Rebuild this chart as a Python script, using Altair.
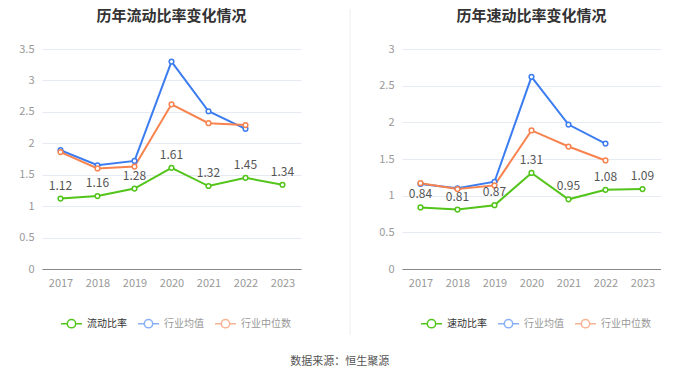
import altair as alt
import pandas as pd

years = ["2017", "2018", "2019", "2020", "2021", "2022", "2023"]

current_ratio = [1.12, 1.16, 1.28, 1.61, 1.32, 1.45, 1.34]
current_avg = [1.89, 1.65, 1.72, 3.30, 2.51, 2.23, None]
current_med = [1.86, 1.60, 1.63, 2.62, 2.32, 2.29, None]

quick_ratio = [0.84, 0.81, 0.87, 1.31, 0.95, 1.08, 1.09]
quick_avg = [1.16, 1.10, 1.19, 2.62, 1.97, 1.71, None]
quick_med = [1.17, 1.09, 1.14, 1.89, 1.67, 1.48, None]

FONT = "Noto Sans CJK SC"
COLORS = ["#52c41a", "#3b7cf0", "#f8834f"]
SYM = "M-1,0L-0.4,0M0.4,0L1,0M0.4,0A0.4,0.4,0,1,1,-0.4,0A0.4,0.4,0,1,1,0.4,0"


def make_df(main_name, main, avg, med):
    rows = []
    for name, vals in [(main_name, main), ("行业均值", avg), ("行业中位数", med)]:
        for y, v in zip(years, vals):
            if v is not None:
                rows.append({"year": y, "value": v, "series": name})
    return pd.DataFrame(rows)


def panel(title, main_name, main, avg, med, ymax):
    df = make_df(main_name, main, avg, med)
    order = [main_name, "行业均值", "行业中位数"]
    x = alt.X("year:N", title=None, sort=years,
              scale=alt.Scale(type="point", padding=0.5),
              axis=alt.Axis(labelAngle=0, labelColor="#999", labelFontSize=11,
                            domainColor="#888", ticks=False, labelPadding=8,
                            grid=False, labelFont=FONT))
    y = alt.Y("value:Q", title=None,
              scale=alt.Scale(domain=[0, ymax], nice=False),
              axis=alt.Axis(values=[i * 0.5 for i in range(int(ymax * 2) + 1)],
                            format=".1~f",
                            labelColor="#999", labelFontSize=11, domain=False,
                            ticks=False, gridColor="#e6eaf2", labelPadding=8,
                            labelFont=FONT))
    color = alt.Color("series:N", sort=order,
                      scale=alt.Scale(domain=order, range=COLORS),
                      legend=alt.Legend(
                          title=None, orient="none", direction="horizontal",
                          legendX=18, legendY=263,
                          symbolType=SYM, symbolSize=441, symbolStrokeWidth=1.5,
                          symbolFillColor="white", labelFontSize=10,
                          labelFont=FONT, columnPadding=8, labelOffset=4,
                          labelColor={"expr": "datum.value == '%s' ? '#333' : '#999'" % main_name},
                          symbolOpacity={"expr": "datum.value == '%s' ? 1 : 0.6" % main_name},
                      ))
    stroke = alt.Stroke("series:N", sort=order, legend=None,
                        scale=alt.Scale(domain=order, range=COLORS))
    lines = alt.Chart(df).mark_line(strokeWidth=2).encode(x=x, y=y, color=color)
    pts = alt.Chart(df).mark_point(filled=False, fill="white", fillOpacity=1,
                                   size=22, strokeWidth=1.5, opacity=1).encode(
        x=x, y=y, stroke=stroke)
    labels = alt.Chart(df[df["series"] == main_name]).mark_text(
        dy=-13, baseline="middle", fontSize=12, color="#555", font=FONT
    ).encode(x=x, y=y, text=alt.Text("value:Q", format=".2f"))
    return alt.layer(lines, pts, labels).properties(
        width=259, height=220,
        title=alt.TitleParams(title, fontSize=15, font=FONT, fontWeight="bold",
                              color="#333", anchor="middle", offset=19.5),
    )


left = panel("历年流动比率变化情况", "流动比率", current_ratio, current_avg, current_med, 3.5)
right = panel("历年速动比率变化情况", "速动比率", quick_ratio, quick_avg, quick_med, 3.0)

sep_df = pd.DataFrame({"k": [0]})
sep = alt.Chart(sep_df).mark_rule(color="#eeeeee", strokeWidth=1).encode(
    x=alt.value(-1), y=alt.value(-40), y2=alt.value(286)
).properties(width=1, height=220)

chart = alt.hconcat(left, sep, right, spacing=50, bounds="flush").resolve_scale(
    color="independent", stroke="independent", y="independent"
).properties(
    title=alt.TitleParams("数据来源：恒生聚源", orient="bottom", anchor="middle",
                          fontSize=11, font=FONT, fontWeight="normal", color="#555", offset=20),
    padding={"left": 10, "top": 0, "right": 0, "bottom": 0},
).configure_view(stroke=None)

chart.save("out.html", embed_options={"renderer": "svg", "actions": False})
